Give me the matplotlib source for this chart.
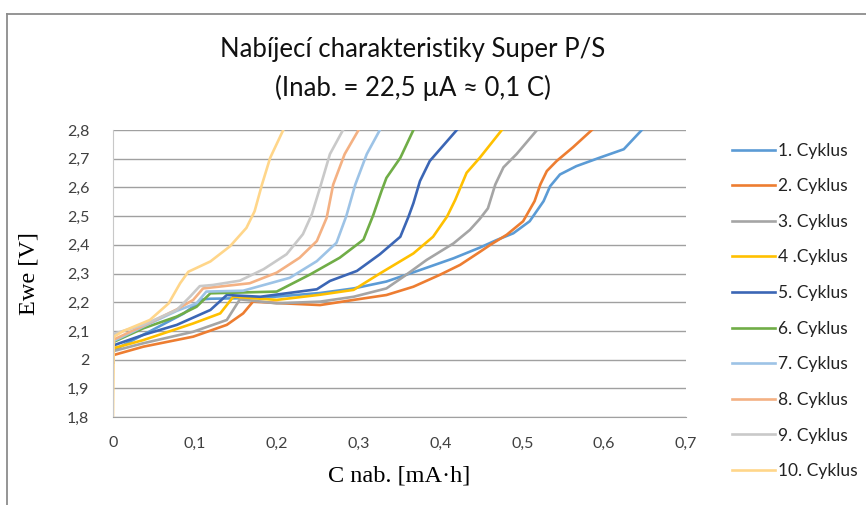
import matplotlib.pyplot as plt
from matplotlib.lines import Line2D

# charge capacity [mA.h] and voltage [V] per cycle
c1_x = [0, 0.001, 0.046, 0.086, 0.110, 0.119, 0.180, 0.253, 0.294, 0.334, 0.375, 0.416, 0.448,
        0.469, 0.489, 0.509, 0.526, 0.534, 0.546, 0.566, 0.595, 0.624, 0.646]
c1_y = [1.99, 2.033, 2.100, 2.160, 2.210, 2.212, 2.215, 2.232, 2.248, 2.272, 2.312, 2.353, 2.390,
        2.417, 2.440, 2.482, 2.552, 2.604, 2.645, 2.674, 2.704, 2.733, 2.8]

c2_x = [0, 0.001, 0.037, 0.098, 0.139, 0.159, 0.171, 0.208, 0.253, 0.294, 0.334, 0.367, 0.399,
        0.424, 0.448, 0.461, 0.481, 0.501, 0.515, 0.522, 0.530, 0.542, 0.562, 0.585]
c2_y = [1.99, 2.016, 2.045, 2.080, 2.121, 2.161, 2.202, 2.196, 2.190, 2.208, 2.225, 2.254, 2.295,
        2.330, 2.375, 2.400, 2.435, 2.482, 2.552, 2.610, 2.657, 2.692, 2.740, 2.8]

c3_x = [0, 0.001, 0.037, 0.098, 0.139, 0.155, 0.200, 0.253, 0.294, 0.334, 0.355, 0.383, 0.416,
        0.436, 0.448, 0.458, 0.467, 0.477, 0.493, 0.518]
c3_y = [1.99, 2.030, 2.057, 2.097, 2.138, 2.210, 2.196, 2.202, 2.219, 2.248, 2.289, 2.347, 2.405,
        2.452, 2.490, 2.527, 2.610, 2.670, 2.716, 2.8]

c4_x = [0, 0.001, 0.037, 0.098, 0.131, 0.147, 0.200, 0.253, 0.294, 0.326, 0.367, 0.391, 0.408,
        0.418, 0.432, 0.448, 0.475]
c4_y = [1.99, 2.040, 2.068, 2.126, 2.161, 2.219, 2.208, 2.226, 2.243, 2.300, 2.370, 2.428, 2.498,
        2.556, 2.651, 2.703, 2.8]

c5_x = [0, 0.001, 0.037, 0.078, 0.119, 0.139, 0.180, 0.249, 0.265, 0.298, 0.326, 0.351, 0.361,
        0.367, 0.375, 0.387, 0.420]
c5_y = [1.99, 2.050, 2.086, 2.121, 2.173, 2.225, 2.219, 2.245, 2.274, 2.309, 2.367, 2.428, 2.498,
        2.545, 2.622, 2.692, 2.8]

c6_x = [0, 0.001, 0.037, 0.078, 0.102, 0.119, 0.200, 0.241, 0.277, 0.306, 0.318, 0.328, 0.334,
        0.351, 0.367]
c6_y = [1.99, 2.062, 2.109, 2.150, 2.184, 2.231, 2.237, 2.297, 2.355, 2.418, 2.504, 2.587, 2.633,
        2.703, 2.8]

c7_x = [0, 0.001, 0.037, 0.078, 0.102, 0.114, 0.159, 0.216, 0.249, 0.273, 0.285, 0.296, 0.310,
        0.326]
c7_y = [1.99, 2.065, 2.115, 2.170, 2.196, 2.237, 2.240, 2.285, 2.343, 2.407, 2.500, 2.610, 2.716,
        2.8]

c8_x = [0, 0.001, 0.037, 0.078, 0.098, 0.110, 0.167, 0.200, 0.228, 0.249, 0.261, 0.269, 0.283,
        0.300]
c8_y = [1.99, 2.070, 2.118, 2.175, 2.208, 2.248, 2.266, 2.303, 2.355, 2.413, 2.494, 2.610, 2.716,
        2.8]

c9_x = [0, 0.001, 0.037, 0.078, 0.094, 0.106, 0.122, 0.155, 0.184, 0.212, 0.232, 0.243, 0.253,
        0.265, 0.281]
c9_y = [1.99, 2.090, 2.121, 2.173, 2.219, 2.256, 2.260, 2.275, 2.315, 2.367, 2.437, 2.507, 2.600,
        2.716, 2.8]

c10_x = [0, 0.001, 0.013, 0.045, 0.068, 0.082, 0.092, 0.119, 0.143, 0.163, 0.173, 0.182, 0.192,
         0.208]
c10_y = [1.8, 2.080, 2.100, 2.138, 2.196, 2.266, 2.306, 2.342, 2.395, 2.459, 2.517, 2.610, 2.703,
         2.8]

xs = [c1_x, c2_x, c3_x, c4_x, c5_x, c6_x, c7_x, c8_x, c9_x, c10_x]
ys = [c1_y, c2_y, c3_y, c4_y, c5_y, c6_y, c7_y, c8_y, c9_y, c10_y]
labels = ['1. Cyklus', '2. Cyklus', '3. Cyklus', '4 .Cyklus', '5. Cyklus',
          '6. Cyklus', '7. Cyklus', '8. Cyklus', '9. Cyklus', '10. Cyklus']
colors = ['#5B9BD5', '#ED7D31', '#A5A5A5', '#FFC000', '#3B66B5',
          '#70AD47', '#9DC3E6', '#F4B183', '#C9C9C9', '#FFD68A']

x_ticks = [0, 0.1, 0.2, 0.3, 0.4, 0.5, 0.6, 0.7]
y_ticks = [1.8, 1.9, 2.0, 2.1, 2.2, 2.3, 2.4, 2.5, 2.6, 2.7, 2.8]

def fmt(v):
    s = ('%.1f' % v).rstrip('0').rstrip('.')
    return s.replace('.', ',')

W, H = 866, 505
fig = plt.figure(figsize=(W / 100, H / 100), dpi=100)
ax = fig.add_axes([113 / W, 1 - 417 / H, (686 - 113) / W, (417 - 130) / H])

handles = []
for x, y, lab, col in zip(xs, ys, labels, colors):
    ln, = ax.plot(x, y, color=col, lw=1.9, label=lab, solid_joinstyle='round')
    handles.append(ln)

ax.set_xlim(0, 0.7)
ax.set_ylim(1.8, 2.8)
ax.set_xticks(x_ticks)
ax.set_xticklabels([fmt(v) for v in x_ticks])
ax.set_yticks(y_ticks)
ax.set_yticklabels([fmt(v) for v in y_ticks])
ax.tick_params(length=0, labelsize=11.5, labelcolor='#404040')
ax.tick_params(axis='x', pad=14)
ax.tick_params(axis='y', pad=17)
for t in ax.get_xticklabels() + ax.get_yticklabels():
    t.set_fontfamily('Lato')

ax.grid(axis='y', color='#a0a0a0', lw=1)
ax.set_axisbelow(True)
for s in ['top', 'right']:
    ax.spines[s].set_visible(False)
ax.spines['left'].set_color('#c8c8c8')
ax.spines['bottom'].set_color('#a0a0a0')

ax.set_xlabel('C nab. [mA·h]', family='Liberation Serif', fontsize=17.5, labelpad=11)
ax.set_ylabel('Ewe [V]', family='Liberation Serif', fontsize=17.5, labelpad=20)

fig.text(413 / W, 1 - 50 / H, 'Nabíjecí charakteristiky Super P/S', family='Lato',
         fontsize=18.5, ha='center', va='center', color='#111111')
fig.text(413 / W, 1 - 88 / H, '(Inab. = 22,5 µA ≈ 0,1 C)', family='Lato',
         fontsize=18.5, ha='center', va='center', color='#111111')

leg = fig.legend(handles=handles, loc='upper left', bbox_to_anchor=(716 / W, 1 - 127 / H),
                 frameon=False, handlelength=2.5, handletextpad=0.15,
                 labelspacing=1.13, prop={'family': 'Lato', 'size': 12.5})
for t in leg.get_texts():
    t.set_color('#222222')

# outer chart frame
fig.add_artist(Line2D([7 / W, 1], [1 - 14 / H, 1 - 14 / H], transform=fig.transFigure,
                      color='#8c8c8c', lw=1.3))
fig.add_artist(Line2D([7 / W, 7 / W], [1 - 14 / H, 0], transform=fig.transFigure,
                      color='#8c8c8c', lw=1.3))

fig.savefig('out.png', dpi=100)
